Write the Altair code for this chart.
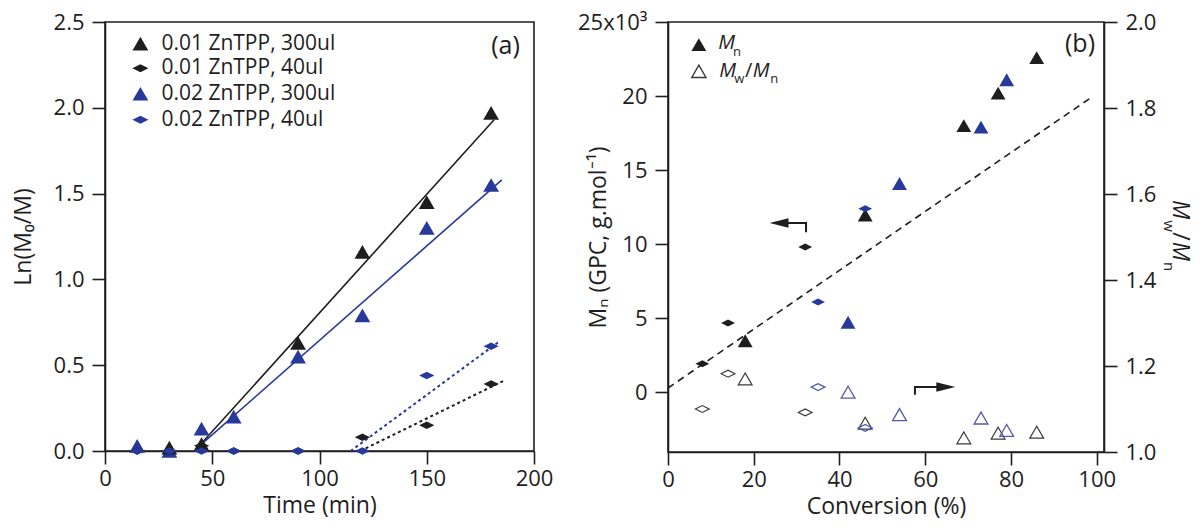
import altair as alt
import pandas as pd

FONT = "Open Sans"
INK = "#1e1e1e"
BLUE = "#27399a"
BLUE_OPEN = "#5557b0"
GREY_OPEN = "#3a3a3a"

TRI = "triangle-up"
DIA = "M-1,0L0,-0.5L1,0L0,0.5Z"
HEAD_L = "M-1,0L1,-0.5L1,0.5Z"
HEAD_R = "M1,0L-1,-0.5L-1,0.5Z"

# ---------------- panel (a) data ----------------
a_time = [15, 30, 45, 60, 90, 120, 150, 180]
a_k300_time = [30, 45, 90, 120, 150, 180]
a_k300_ln = [0.02, 0.04, 0.63, 1.16, 1.45, 1.97]
a_k40_ln = [0.00, 0.00, 0.03, 0.00, 0.00, 0.08, 0.15, 0.39]
a_b300_ln = [0.03, 0.00, 0.13, 0.20, 0.55, 0.79, 1.30, 1.55]
a_b40_ln = [0.00, 0.00, 0.00, 0.00, 0.00, 0.00, 0.44, 0.61]

a_fit_k300_time = [43.2, 181.4]
a_fit_k300_ln = [0.02, 1.93]
a_fit_b300_time = [44.1, 185.0]
a_fit_b300_ln = [0.03, 1.58]
a_fit_k40_time = [119.0, 186.8]
a_fit_k40_ln = [0.00, 0.415]
a_fit_b40_time = [114.5, 184.0]
a_fit_b40_ln = [0.00, 0.64]

a_legend_labels = ["0.01 ZnTPP, 300ul", "0.01 ZnTPP, 40ul",
                   "0.02 ZnTPP, 300ul", "0.02 ZnTPP, 40ul"]

# ---------------- panel (b) data ----------------
b_k_tri_conv = [18, 46, 69, 77, 86]
b_k_tri_mn = [3.48, 11.97, 18.0, 20.2, 22.6]
b_k_tri_pdi = [1.170, 1.067, 1.033, 1.044, 1.046]

b_k_dia_conv = [8, 14, 32]
b_k_dia_mn = [1.93, 4.68, 9.81]
b_k_dia_pdi = [1.100, 1.182, 1.092]

b_b_tri_conv = [42, 54, 73, 79]
b_b_tri_mn = [4.73, 14.1, 17.9, 21.1]
b_b_tri_pdi = [1.139, 1.087, 1.079, 1.050]

b_b_dia_conv = [35, 46]
b_b_dia_mn = [6.10, 12.4]
b_b_dia_pdi = [1.151, 1.056]

b_theory_conv = [0.0, 98.9]
b_theory_mn = [0.29, 19.94]

# ---------------- scales / axes ----------------
XA = alt.Scale(domain=[0, 200], nice=False, zero=False)
YA = alt.Scale(domain=[0, 2.5], nice=False, zero=False)
XB = alt.Scale(domain=[0, 101.7], nice=False, zero=False)
YB = alt.Scale(domain=[-4.03, 25], nice=False, zero=False)
YB2 = alt.Scale(domain=[1.0, 2.0], nice=False, zero=False)

AX_A_X = alt.Axis(title="Time (min)", values=[0, 50, 100, 150, 200], format="d")
AX_A_Y = alt.Axis(title="Ln(M₀/M)", values=[0, 0.5, 1.0, 1.5, 2.0, 2.5],
                  format=".1f", titlePadding=18, labelPadding=8)
AX_B_X = alt.Axis(title="Conversion (%)", values=[0, 20, 40, 60, 80, 100], format="d")
AX_B_Y = alt.Axis(title="Mₙ (GPC, g.mol⁻¹)", values=[0, 5, 10, 15, 20, 25],
                  labelExpr="datum.value == 25 ? '25x10³' : datum.label",
                  titleX=-58, labelPadding=8, orient="left")
AX_B_Y2 = alt.Axis(title=None, values=[1.0, 1.2, 1.4, 1.6, 1.8, 2.0], format=".1f",
                   orient="right", labelPadding=8)

AXES = {
    id(XA): AX_A_X, id(YA): AX_A_Y,
    id(XB): AX_B_X, id(YB): AX_B_Y, id(YB2): AX_B_Y2,
}


def frame(x, y, **extra):
    d = pd.DataFrame({"x": x, "y": y})
    for k, v in extra.items():
        d[k] = v
    return d


def enc(xs, ys):
    return dict(x=alt.X("x:Q", scale=xs, axis=AXES[id(xs)]),
                y=alt.Y("y:Q", scale=ys, axis=AXES[id(ys)]))


def points(x, y, xs, ys, shape, color, size, filled=True, sw=1.4):
    kw = dict(shape=shape, size=size, opacity=1)
    if filled:
        kw.update(filled=True, fill=color, strokeWidth=0)
    else:
        kw.update(filled=False, stroke=color, strokeWidth=sw, fillOpacity=0)
    return alt.Chart(frame(x, y)).mark_point(**kw).encode(**enc(xs, ys))


def line(x, y, xs, ys, color, width, dash=None, ordered=False):
    kw = dict(color=color, strokeWidth=width)
    if dash is not None:
        kw["strokeDash"] = dash
    d = frame(x, y, o=list(range(len(x))))
    e = enc(xs, ys)
    if ordered:
        e["order"] = alt.Order("o:Q")
    return alt.Chart(d).mark_line(**kw).encode(**e)


def text(x, y, labels, xs, ys, size, align="left", italic=False, angle=0, color=INK):
    kw = dict(font=FONT, fontSize=size, align=align, baseline="middle", color=color)
    if italic:
        kw["fontStyle"] = "italic"
    if angle:
        kw["angle"] = angle
    return alt.Chart(frame(x, y, label=labels)).mark_text(**kw).encode(
        **enc(xs, ys), text="label:N")


# ---------------- panel (a) ----------------
LEG_A_MARK_X = 16.5
LEG_A_TEXT_X = 26.3
LEG_A_Y = [2.374, 2.231, 2.082, 1.930]

layers_a = [
    line(a_fit_k300_time, a_fit_k300_ln, XA, YA, INK, 1.6),
    line(a_fit_b300_time, a_fit_b300_ln, XA, YA, BLUE, 1.6),
    line(a_fit_k40_time, a_fit_k40_ln, XA, YA, INK, 2.0, dash=[3, 3]),
    line(a_fit_b40_time, a_fit_b40_ln, XA, YA, BLUE, 2.0, dash=[3, 3]),
    points(a_time, a_b300_ln, XA, YA, TRI, BLUE, 250),
    points(a_k300_time, a_k300_ln, XA, YA, TRI, INK, 250),
    points(a_time, a_k40_ln, XA, YA, DIA, INK, 230),
    points(a_time, a_b40_ln, XA, YA, DIA, BLUE, 230),
    # legend
    points([LEG_A_MARK_X], [LEG_A_Y[0]], XA, YA, TRI, INK, 250),
    points([LEG_A_MARK_X], [LEG_A_Y[1]], XA, YA, DIA, INK, 260),
    points([LEG_A_MARK_X], [LEG_A_Y[2]], XA, YA, TRI, BLUE, 250),
    points([LEG_A_MARK_X], [LEG_A_Y[3]], XA, YA, DIA, BLUE, 260),
    text([LEG_A_TEXT_X] * 4, LEG_A_Y, a_legend_labels, XA, YA, 21),
    text([186.7], [2.36], ["(a)"], XA, YA, 25, align="center"),
]
chart_a = alt.layer(*layers_a).properties(width=429, height=429)

# ---------------- panel (b) ----------------
ARROW_L_X = [32.2, 32.2, 27.0]
ARROW_L_Y = [10.8, 11.43, 11.43]
ARROW_R_X = [57.6, 57.6, 63.0]
ARROW_R_Y = [-0.16, 0.36, 0.36]

LEG_B_MARK_X = 7.2
LEG_B_ROW = [23.47, 21.67]

left_layers = [
    line(b_theory_conv, b_theory_mn, XB, YB, INK, 1.6, dash=[7, 5]),
    points(b_k_tri_conv, b_k_tri_mn, XB, YB, TRI, INK, 220),
    points(b_k_dia_conv, b_k_dia_mn, XB, YB, DIA, INK, 190),
    points(b_b_tri_conv, b_b_tri_mn, XB, YB, TRI, BLUE, 220),
    points(b_b_dia_conv, b_b_dia_mn, XB, YB, DIA, BLUE, 190),
    # arrows
    line(ARROW_L_X, ARROW_L_Y, XB, YB, INK, 2.0, ordered=True),
    points([25.9], [11.43], XB, YB, HEAD_L, INK, 360),
    line(ARROW_R_X, ARROW_R_Y, XB, YB, INK, 2.0, ordered=True),
    points([64.8], [0.36], XB, YB, HEAD_R, INK, 360),
    # legend
    points([LEG_B_MARK_X], [LEG_B_ROW[0]], XB, YB, TRI, INK, 220),
    points([LEG_B_MARK_X], [LEG_B_ROW[1]], XB, YB, TRI, GREY_OPEN, 200, filled=False),
    text([13.66, 13.9, 21.7], [23.58, 21.67, 21.67], ["M", "M", "M"], XB, YB, 20,
         align="center", italic=True),
    text([16.1, 16.6, 24.8], [22.98, 21.15, 21.15], ["n", "w", "n"], XB, YB, 13,
         align="center"),
    text([18.8], [21.67], ["/"], XB, YB, 20, align="center"),
    text([96.1], [23.52], ["(b)"], XB, YB, 25, align="center"),
    # right axis title  M_w / M_n  (rotated)
    text([119.4, 119.4], [12.34, 9.51], ["M", "M"], XB, YB, 23, align="center",
         italic=True, angle=90),
    text([119.4], [10.52], ["/"], XB, YB, 23, align="center", angle=90),
    text([116.9, 116.9], [11.23, 8.49], ["w", "n"], XB, YB, 15, align="center", angle=90),
]

right_layers = [
    points(b_k_dia_conv, b_k_dia_pdi, XB, YB2, DIA, GREY_OPEN, 190, filled=False, sw=1.2),
    points(b_k_tri_conv, b_k_tri_pdi, XB, YB2, TRI, GREY_OPEN, 190, filled=False, sw=1.2),
    points(b_b_dia_conv, b_b_dia_pdi, XB, YB2, DIA, BLUE_OPEN, 190, filled=False, sw=1.3),
    points(b_b_tri_conv, b_b_tri_pdi, XB, YB2, TRI, BLUE_OPEN, 190, filled=False, sw=1.3),
]

chart_b = alt.layer(alt.layer(*left_layers), alt.layer(*right_layers)).resolve_scale(
    y="independent").properties(width=436, height=430)

chart = alt.hconcat(chart_a, chart_b, spacing=134, bounds="flush").properties(
    padding={"left": 3, "top": 2, "right": 0, "bottom": 0}
).configure(font=FONT).configure_view(
    stroke=INK, strokeWidth=1.6
).configure_axis(
    domainColor=INK, domainWidth=1.6, tickColor=INK, tickWidth=1.6, tickSize=13,
    labelFont=FONT, labelFontSize=22, labelColor=INK, titleFont=FONT,
    titleFontSize=23, titleColor=INK, titleFontWeight="normal", grid=False,
    labelOverlap=False, labelFlush=False
).configure_axisX(labelPadding=4, titlePadding=5)

chart.save("out.html", embed_options={"renderer": "svg", "actions": False})
